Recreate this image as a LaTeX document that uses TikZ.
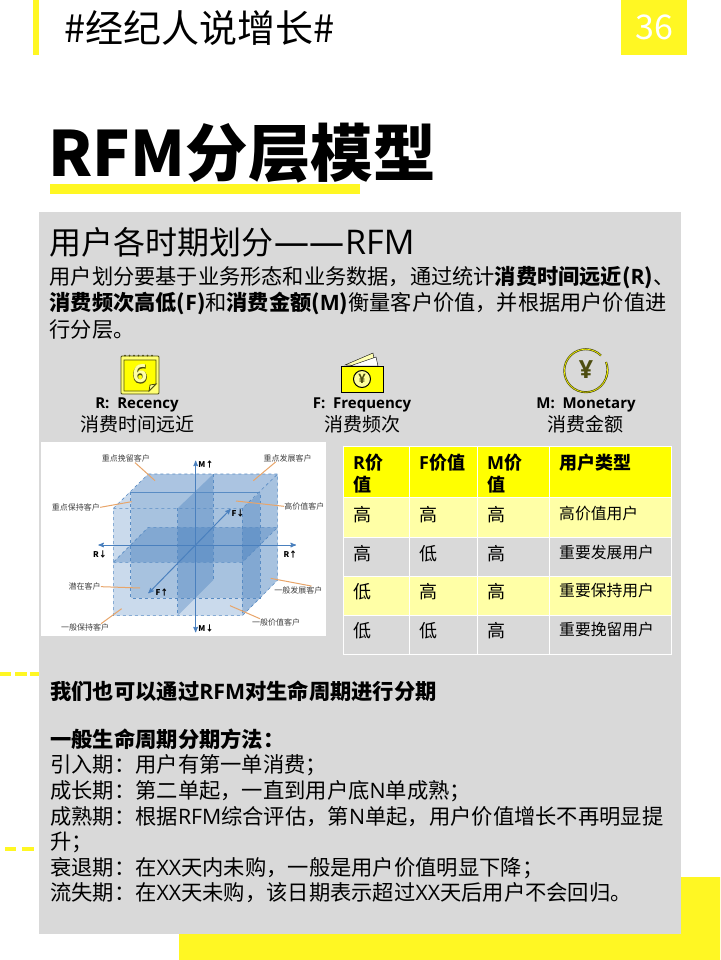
\documentclass[tikz,border=0pt]{standalone}
\usepackage{fontspec}
\usepackage{tikz}
\usetikzlibrary{arrows}
\setmainfont{Noto Sans CJK SC}
\newfontfamily\latfont{Open Sans}
\newfontfamily\heavyfont{Noto Sans CJK SC Black}
\newfontfamily\thickfont[FakeBold=4]{Open Sans Bold}
\newcommand{\la}[1]{{\latfont #1}}
\newcommand{\fsize}[2]{\fontsize{#1}{#2}\selectfont}
\definecolor{markyellow}{HTML}{FFF723}
\definecolor{panelgrey}{HTML}{D9D9D9}
\definecolor{headyellow}{HTML}{FFFF00}
\definecolor{rowyellow}{HTML}{FFFFA6}
\definecolor{iconolive}{HTML}{4D4D10}
\definecolor{cubeblue}{HTML}{2F6FB5}
\definecolor{axisblue}{HTML}{4A80BE}
\definecolor{leadorange}{HTML}{E8A56A}
\begin{document}
\begin{tikzpicture}[%
    x=1pt,
    y=-1pt,
    txt/.style={
      inner sep=0pt,
      anchor=base west,
      align=left
    },
    body/.style={
      txt,
      anchor=north west,
      font=\fsize{21.3}{25.6}
    },
    icontitle/.style={
      inner sep=0pt,
      font=\fsize{15}{18}\bfseries\latfont
    },
    iconsub/.style={
      inner sep=0pt,
      font=\fsize{19}{22}
    },
    cell/.style={
      txt,
      font=\fsize{18}{22}
    },
    headcell/.style={
      txt,
      anchor=north west,
      font=\fsize{18}{22}\bfseries
    },
    typecell/.style={
      txt,
      font=\fsize{15.8}{20}
    },
    tiny/.style={
      inner sep=0pt,
      text=black!75,
      font=\fsize{8}{9}
    },
    tinybold/.style={
      tiny,
      text=black,
      font=\fsize{8}{9}\bfseries
    },
    axis/.style={
      <->,
      draw=axisblue,
      line width=1pt
    },
    leader/.style={
      draw=leadorange,
      line width=1pt
    },
    face/.style={
      fill=cubeblue,
      fill opacity=#1,
      draw=none
    },
    edge/.style={
      draw=cubeblue!80,
      dashed,
      line width=0.6pt
    },
    >=stealth'
    ]
    \useasboundingbox (0,0) rectangle (720,960);
    \fill[white] (0,0) rectangle (720,960);

    % page decoration
    \fill[markyellow] (33,0) rectangle (39,55);
    \fill[markyellow] (621,0) rectangle (687,55);
    \fill[markyellow] (50,184) rectangle (360,194);
    \fill[markyellow] (179,934) -- (681,934) -- (681,877) -- (720,877) -- (720,960) -- (179,960) -- cycle;
    \foreach \xa/\xb in {0/11,15/27,30/39} \fill[markyellow] (\xa,672) rectangle (\xb,676);
    \foreach \xa/\xb in {5/16,22/34} \fill[markyellow] (\xa,847) rectangle (\xb,851);
    \fill[panelgrey] (39,212) rectangle (681,934);

    % header
    \draw (64.5,43) node[txt,font=\fsize{38}{42}] (head) {\#经纪人说增长\#};
    \draw (654,27) node[inner sep=0pt,text=white,font=\fsize{34}{36}] (pagenum) {36};
    \draw (48.5,176) node[txt,font=\fsize{62.5}{66}\heavyfont] (title) {RFM分层模型};

    % intro text
    \draw (49,254) node[txt,font=\fsize{32}{36}] (sub) {用户各时期划分\kern1pt{\latfont\fsize{35}{36}——}\kern1pt{\latfont\fsize{34}{36}RFM}};
    \draw (49.5,266) node[txt,anchor=north west,font=\fsize{21.2}{26.5}] (intro) {用户划分要基于业务形态和业务数据，通过统计\textbf{消费时间远近(\la{R})}、\\
      \textbf{消费频次高低(\la{F})}和\textbf{消费金额(\la{M})}衡量客户价值，并根据用户价值进\\
      行分层。};

    % icons
    \draw[iconolive,fill=headyellow!55!white,rounded corners=1pt,line width=0.8pt] (121,356) rectangle (159,394);
    \foreach \xa in {125,129.5,...,156} \fill[iconolive] (\xa,355.5) circle (1);
    \draw[iconolive,fill=headyellow,line width=0.8pt] (124,360) -- (156,360) -- (156,384) -- (149,391) -- (124,391) -- cycle;
    \draw[iconolive,fill=headyellow!40!white,line width=0.8pt] (149,391) -- (150,385) -- (156,384) -- cycle;
    \draw (140,374) node[inner sep=0pt,text=iconolive,font=\fsize{25}{26}\thickfont] (sixback) {6};
    \draw (sixback.center) node[inner sep=0pt,text=headyellow!35!white,font=\fsize{25}{26}\bfseries\latfont] (six) {6};
    \draw[black,fill=headyellow!30] (345,365) -- (373,353) -- (375,366) -- cycle;
    \draw[black,fill=white] (350,366) -- (376,357) -- (378,366) -- cycle;
    \draw[black,fill=headyellow] (341,366) rectangle (383,392);
    \draw[black,fill=headyellow!40,line width=1pt] (362,379) circle (8.5);
    \draw (362,379) node[inner sep=0pt,text=iconolive,font=\fsize{13}{13}\bfseries\latfont] (yenf) {¥};
    \draw[iconolive,line width=2pt] (601,355.5) arc (-45:-360:21.5);
    \draw[iconolive,line width=2pt] (606,362) arc (-22:20:21.5);
    \draw[headyellow,line width=0.6pt] (601,355.5) arc (-45:-360:21.5);
    \draw[headyellow,line width=0.6pt] (606,362) arc (-22:20:21.5);
    \draw (586,370) node[inner sep=0pt,text=iconolive,font=\fsize{25}{26}\bfseries\latfont] (yenm) {¥};

    \draw (137,405) node[icontitle] (rname) {R:\ \ Recency};
    \draw (137,424) node[iconsub] (rsub) {消费时间远近};
    \draw (362,405) node[icontitle] (fname) {F:\ \ Frequency};
    \draw (362,424) node[iconsub] (fsub) {消费频次};
    \draw (586,405) node[icontitle] (mname) {M:\ \ Monetary};
    \draw (585,424) node[iconsub] (msub) {消费金额};

    % cube picture, numbers at 3x
    \fill[white] (41,442) rectangle (326,636);
    \begin{scope}[shift={(0,340)},x=0.33333pt,y=-0.33333pt]
      \path[face=0.25] (340,505) -- (445,402) -- (833,402) -- (833,720) -- (727,827) -- (340,827) -- cycle;
      \path[face=0.2] (445,402) -- (833,402) -- (780,457) -- (392,457) -- cycle;
      \path[face=0.22] (780,457) -- (833,402) -- (833,720) -- (780,775) -- cycle;
      \path[face=0.22] (392,457) -- (780,457) -- (780,775) -- (392,775) -- cycle;
      \path[face=0.3] (340,667) -- (727,667) -- (833,562) -- (445,562) -- cycle;
      \path[face=0.3] (533,505) -- (640,402) -- (640,720) -- (533,827) -- cycle;
      \path[face=0.3] (727,505) -- (780,457) -- (780,775) -- (727,827) -- cycle;
      \draw[edge] (445,402) -- (833,402) -- (833,720) -- (727,827) -- (340,827) -- (340,505) -- cycle;
      \draw[edge] (340,505) -- (727,505) -- (833,402);
      \draw[edge] (727,505) -- (727,827);
      \draw[edge] (392,457) -- (392,775) -- (780,775) -- (780,457);
      \draw[edge] (533,505) -- (533,827);
      \draw[edge] (640,402) -- (640,720);
      \draw[draw=cubeblue!80,line width=0.8pt] (392,457) -- (780,457);
      \draw[edge] (340,667) -- (727,667) -- (833,562) -- (445,562) -- cycle;

      \coordinate (rleft) at (295,615);
      \coordinate (rright) at (888,615);
      \coordinate (mtop) at (587,362);
      \coordinate (mbot) at (587,877);
      \coordinate (fnear) at (445,760);
      \coordinate (ffar) at (692,507);
      \draw[axis] (rleft) -- (rright);
      \draw[axis] (mtop) -- (mbot);
      \draw[axis] (fnear) -- (ffar);

      \draw (378,356) node[tiny] (keep) {重点挽留客户};
      \draw (863,354) node[tiny] (grow) {重点发展客户};
      \draw (228,502) node[tiny] (hold) {重点保持客户};
      \draw (913,499) node[tiny] (high) {高价值客户};
      \draw (254,740) node[tiny] (pot) {潜在客户};
      \draw (895,750) node[tiny] (ggrow) {一般发展客户};
      \draw (255,863) node[tiny] (ghold) {一般保持客户};
      \draw (828,848) node[tiny] (gval) {一般价值客户};

      \draw (300,642) node[tinybold] (rdown) {R↓};
      \draw (871,642) node[tinybold] (rup) {R↑};
      \draw (618,372) node[tinybold] (mup) {M↑};
      \draw (618,866) node[tinybold] (mdown) {M↓};
      \draw (714,521) node[tinybold] (fdown) {F↓};
      \draw (486,758) node[tinybold] (fup) {F↑};

      \coordinate (keepend) at (465,422);
      \coordinate (growend) at (760,422);
      \coordinate (holdend) at (395,485);
      \coordinate (highend) at (708,483);
      \coordinate (potend) at (420,744);
      \coordinate (ggrowend) at (812,715);
      \coordinate (gholdend) at (365,806);
      \coordinate (gvalend) at (690,797);
      \draw[leader] ([xshift=9pt]keep.south) -- (keepend);
      \draw[leader] ([xshift=-12pt]grow.south) -- (growend);
      \draw[leader] (hold.east) -- (holdend);
      \draw[leader] (high.west) -- (highend);
      \draw[leader] (pot.east) -- (potend);
      \draw[leader] ([xshift=-11pt]ggrow.north east) -- (ggrowend);
      \draw[leader] ([xshift=16pt]ghold.north) -- (gholdend);
      \draw[leader] ([xshift=-16pt]gval.north) -- (gvalend);
    \end{scope}

    % table
    \foreach \ya/\yb/\rowcol in {446/497/headyellow,497/537/rowyellow,537/576/panelgrey,576/615/rowyellow,615/654/panelgrey}
      \foreach \xa/\xb in {343/409,409/477,477/549,549/671}
        \draw[white,line width=1pt,fill=\rowcol] (\xa,\ya) rectangle (\xb,\yb);

    \draw (353,454) node[headcell] (hr) {\la{R}价\\值};
    \draw (419,454) node[headcell] (hf) {\la{F}价值};
    \draw (487,454) node[headcell] (hm) {\la{M}价\\值};
    \draw (559,454) node[headcell] (ht) {用户类型};
    \foreach \yy/\rn/\rv/\fv/\mv/\tv in {521/a/高/高/高/高价值用户,560/b/高/低/高/重要发展用户,598/c/低/高/高/重要保持用户,637/d/低/低/高/重要挽留用户}{
      \draw (353,\yy) node[cell] (r\rn) {\rv};
      \draw (419,\yy) node[cell] (f\rn) {\fv};
      \draw (487,\yy) node[cell] (m\rn) {\mv};
      \draw (559,\yy-1.5) node[typecell] (t\rn) {\tv};
    }

    % lower text
    \draw (50,681) node[body] (lifeone) {\textbf{我们也可以通过\la{RFM}对生命周期进行分期}};
    \draw (50,728.5) node[body] (lifetwo) {\textbf{一般生命周期分期方法：}\\
      引入期：用户有第一单消费；\\
      成长期：第二单起，一直到用户底\la{N}单成熟；\\
      成熟期：根据\la{RFM}综合评估，第\la{N}单起，用户价值增长不再明显提\\
      升；\\
      衰退期：在\la{XX}天内未购，一般是用户价值明显下降；\\
      流失期：在\la{XX}天未购，该日期表示超过\la{XX}天后用户不会回归。};
  \end{tikzpicture}
\end{document}
